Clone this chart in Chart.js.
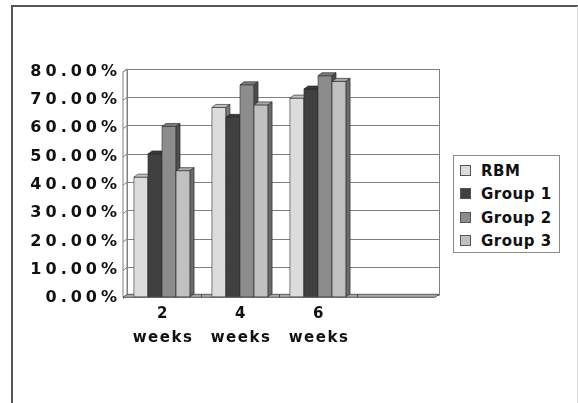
<!DOCTYPE html>
<html>
<head>
<meta charset="utf-8">
<title>Weeks chart</title>
<script src="https://cdn.jsdelivr.net/npm/chart.js@4/dist/chart.umd.min.js"></script>
<style>
  html, body { margin: 0; padding: 0; background: #fff; }
  #wrap { position: relative; width: 578px; height: 403px; overflow: hidden; }
  #frame { position: absolute; left: 11px; top: 5px; width: 564px; height: 420px;
           border-left: 2px solid #555; border-top: 2px solid #555; border-right: 1px solid #ddd; }
  #chart { position: absolute; left: 0; top: 0; }
  #legend { position: absolute; left: 453px; top: 155px; width: 107px; height: 98px;
            border: 1px solid #8a8a8a; box-sizing: border-box; background: #fff;
            font-family: 'DejaVu Sans', sans-serif; font-size: 15px; font-weight: bold;
            letter-spacing: 0.5px; color: #111; }
  .item { position: absolute; left: 6px; height: 24px; line-height: 24px; white-space: nowrap; }
  .sw { display: inline-block; width: 11px; height: 11px; border: 1px solid #555;
        box-sizing: border-box; vertical-align: middle; margin-right: 10px; position: relative; top: -1px; }
</style>
</head>
<body>
<div id="wrap">
  <div id="frame"></div>
  <canvas id="chart" width="578" height="403"></canvas>
  <div id="legend"></div>
</div>
<script>
// Categories (the fourth slot is an empty category on the axis)
const categories = ['2 weeks', '4 weeks', '6 weeks', ''];
const seriesNames = ['RBM', 'Group 1', 'Group 2', 'Group 3'];

// Percent values per series
const rbm    = [42.4, 67.0, 70.3, null];
const group1 = [50.6, 63.5, 73.5, null];
const group2 = [60.3, 75.0, 78.2, null];
const group3 = [44.7, 67.9, 76.2, null];

// Value axis ticks
const yMin = 0;
const yMax = 80;
const yStep = 10;

const seriesColors = ['#dcdcdc', '#404040', '#8c8c8c', '#c0c0c0'];
const seriesValues = [rbm, group1, group2, group3];

// Oblique projection used for the column depth and the walls
const depth = { dx: 4, dy: 3, ox: -4, oy: 1.6 };

function shade(hex, f) {
  const n = parseInt(hex.slice(1), 16);
  const r = Math.round(((n >> 16) & 255) * f);
  const g = Math.round(((n >> 8) & 255) * f);
  const b = Math.round((n & 255) * f);
  return 'rgb(' + r + ',' + g + ',' + b + ')';
}

function poly(ctx, pts, fill, stroke, lw) {
  ctx.beginPath();
  ctx.moveTo(pts[0][0], pts[0][1]);
  for (let i = 1; i < pts.length; i++) ctx.lineTo(pts[i][0], pts[i][1]);
  ctx.closePath();
  if (fill) { ctx.fillStyle = fill; ctx.fill(); }
  if (stroke) { ctx.strokeStyle = stroke; ctx.lineWidth = lw || 1; ctx.stroke(); }
}

// Wider letter spacing for the axis labels
function spaceLabels(scale, spacing) {
  if (scale._spaced) return;
  const orig = scale.drawLabels;
  scale.drawLabels = function (area) {
    const c = this.ctx;
    const prev = c.letterSpacing;
    c.letterSpacing = spacing;
    orig.call(this, area);
    c.letterSpacing = prev;
  };
  scale._spaced = true;
}

const columns3d = {
  id: 'columns3d',
  beforeDraw(chart) {
    spaceLabels(chart.scales.y, '4px');
    spaceLabels(chart.scales.x, '1.5px');
  },
  beforeDatasetsDraw(chart) {
    const ctx = chart.ctx;
    const a = chart.chartArea;
    const xs = chart.scales.x;
    const ys = chart.scales.y;
    ctx.save();

    // right edge of the back wall
    ctx.strokeStyle = '#808080';
    ctx.lineWidth = 1;
    ctx.beginPath();
    ctx.moveTo(Math.round(a.right) + 0.5, a.top);
    ctx.lineTo(Math.round(a.right) + 0.5, a.bottom);
    ctx.stroke();

    // left side wall
    const wl = a.left + depth.ox;
    poly(ctx, [[wl, a.top + depth.dy], [a.left, a.top], [a.left, a.bottom], [wl, a.bottom + depth.oy]],
         '#fff', '#808080', 1);
    ctx.strokeStyle = '#808080';
    for (let v = yMin; v <= yMax; v += yStep) {
      const yb = ys.getPixelForValue(v);
      ctx.beginPath();
      ctx.moveTo(wl, yb + depth.dy);
      ctx.lineTo(a.left, yb);
      ctx.stroke();
    }

    // floor slab
    const ff = a.bottom + depth.oy;
    const fb = ff - depth.dy;
    poly(ctx, [[a.left + depth.ox, ff], [a.right + depth.ox, ff], [a.right, fb], [a.left, fb]],
         '#a8a8a8', '#5a5a5a', 1);
    ctx.strokeStyle = '#444';
    const n = chart.data.labels.length;
    for (let k = 1; k < n; k++) {
      const bx = Math.round((xs.getPixelForValue(k - 1) + xs.getPixelForValue(k)) / 2 + depth.ox) + 0.5;
      ctx.beginPath();
      ctx.moveTo(bx, ff);
      ctx.lineTo(bx, ff - depth.dy);
      ctx.stroke();
    }

    // columns, left to right so each front face hides the previous side face
    for (let i = 0; i < n; i++) {
      chart.data.datasets.forEach((ds, d) => {
        if (ds.data[i] == null) return;
        const el = chart.getDatasetMeta(d).data[i];
        const p = el.getProps(['x', 'y', 'base', 'width'], true);
        const L = p.x - p.width / 2 + depth.ox;
        const R = p.x + p.width / 2 + depth.ox;
        const T = p.y + depth.oy;
        const B = p.base + depth.oy;
        const c = ds.backgroundColor;
        poly(ctx, [[L, T], [R, T], [R, B], [L, B]], c, 'rgba(50,50,50,0.75)', 0.8);
        poly(ctx, [[L, T], [L + depth.dx, T - depth.dy], [R + depth.dx, T - depth.dy], [R, T]],
             shade(c, 0.88), 'rgba(40,40,40,0.8)', 0.8);
        poly(ctx, [[R, T], [R + depth.dx, T - depth.dy], [R + depth.dx, B - depth.dy], [R, B]],
             shade(c, 0.55), 'rgba(40,40,40,0.8)', 0.8);
      });
    }
    ctx.restore();
    return false;
  }
};

Chart.defaults.font.family = "'DejaVu Sans', sans-serif";
Chart.defaults.font.weight = 'bold';
Chart.defaults.color = '#111';

const chart = new Chart(document.getElementById('chart'), {
  type: 'bar',
  data: {
    labels: categories.map(c => (c ? c.split(' ') : '')),
    datasets: seriesNames.map((name, i) => ({
      label: name,
      data: seriesValues[i],
      backgroundColor: seriesColors[i],
      categoryPercentage: 0.72,
      barPercentage: 1
    }))
  },
  options: {
    responsive: false,
    animation: false,
    devicePixelRatio: 1,
    layout: { padding: { left: 0, top: 69, right: 139, bottom: 0 } },
    plugins: { legend: { display: false }, tooltip: { enabled: false } },
    scales: {
      x: {
        grid: { display: false, drawTicks: false },
        border: { display: false },
        ticks: { padding: 6, labelOffset: -3, maxRotation: 0, autoSkip: false,
                 font: { size: 15, lineHeight: 1.6 } },
        afterFit(s) { s.height = 403 - 295.7; }
      },
      y: {
        min: yMin,
        max: yMax,
        grid: { color: '#808080', lineWidth: 1, drawTicks: false },
        border: { display: true, color: '#808080' },
        ticks: { stepSize: yStep, padding: 6, labelOffset: 2.5, font: { size: 16 },
                 callback: v => v.toFixed(2) + '%' },
        afterFit(s) { s.width = 127; }
      }
    }
  },
  plugins: [columns3d]
});

// legend built from the same series names and colours
const legend = document.getElementById('legend');
seriesNames.forEach((name, i) => {
  const item = document.createElement('div');
  item.className = 'item';
  item.style.top = (4 + i * 23.4 - 1) + 'px';
  const sw = document.createElement('span');
  sw.className = 'sw';
  sw.style.background = seriesColors[i];
  item.appendChild(sw);
  item.appendChild(document.createTextNode(name));
  legend.appendChild(item);
});
</script>
</body>
</html>
